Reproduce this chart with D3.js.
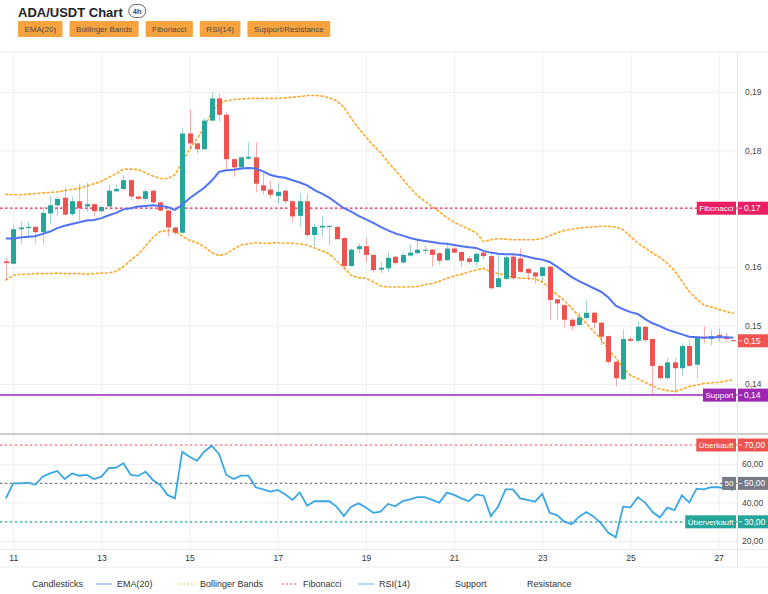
<!DOCTYPE html>
<html>
<head>
<meta charset="utf-8">
<script src="https://cdn.jsdelivr.net/npm/d3@7"></script>
<style>
  body { margin:0; background:#fff; }
  svg text { font-family:"Liberation Sans", Arial, sans-serif; }
</style>
</head>
<body>
<svg id="chart" width="768" height="594"></svg>
<script>
//////////////////////////////////////////////////////////////////////////////
//Data (4h candles, first one at 10th 20:00)
var startTime = Date.UTC(2024, 9, 10, 20);
var opens = [.1610,.1606,.1665,.1667,.1669,.1660,.1692,.1706,.1719,.1691,
  .1713,.1704,.1708,.1696,.1704,.1730,.1734,.1749,.1721,.1717,
  .1731,.1711,.1697,.1668,.1659,.1829,.1812,.1802,.1851,.1889,
  .1861,.1785,.1771,.1786,.1788,.1740,.1733,.1722,.1731,.1713,
  .1688,.1713,.1655,.1668,.1669,.1669,.1650,.1602,.1631,.1636,
  .1621,.1596,.1598,.1618,.1608,.1620,.1624,.1628,.1630,.1624,
  .1612,.1632,.1626,.1615,.1609,.1625,.1619,.1566,.1580,.1618,
  .1615,.1597,.1591,.1585,.1601,.1545,.1535,.1510,.1501,.1513,
  .1522,.1505,.1482,.1438,.1408,.1477,.1474,.1498,.1477,.1431,
  .1410,.1437,.1427,.1465,.1433,.1481,.1477,.1484,.1481,.1475];
var highs = [.1616,.1672,.1678,.1678,.1670,.1704,.1721,.1721,.1735,.1721,
  .1743,.1744,.1709,.1705,.1741,.1741,.1758,.1751,.1723,.1734,
  .1733,.1712,.1698,.1669,.1839,.1870,.1813,.1855,.1900,.1897,
  .1865,.1786,.1790,.1814,.1814,.1761,.1749,.1744,.1734,.1714,
  .1727,.1727,.1675,.1688,.1671,.1670,.1651,.1632,.1641,.1650,
  .1622,.1609,.1626,.1619,.1625,.1639,.1650,.1637,.1631,.1626,
  .1641,.1635,.1627,.1619,.1626,.1626,.1624,.1624,.1619,.1621,
  .1632,.1599,.1592,.1601,.1602,.1546,.1536,.1513,.1522,.1544,
  .1524,.1506,.1483,.1439,.1494,.1481,.1507,.1499,.1478,.1432,
  .1444,.1444,.1470,.1475,.1482,.1499,.1493,.1495,.1488,.1476];
var lows = [.1578,.1605,.1640,.1652,.1641,.1640,.1674,.1687,.1687,.1687,
  .1680,.1695,.1687,.1693,.1703,.1729,.1731,.1714,.1714,.1714,
  .1709,.1696,.1652,.1655,.1657,.1801,.1795,.1801,.1851,.1850,
  .1766,.1755,.1766,.1784,.1729,.1724,.1718,.1708,.1708,.1678,
  .1669,.1652,.1636,.1652,.1638,.1647,.1598,.1601,.1624,.1609,
  .1591,.1590,.1592,.1604,.1606,.1618,.1623,.1623,.1601,.1604,
  .1611,.1624,.1601,.1604,.1601,.1613,.1561,.1564,.1578,.1578,
  .1591,.1578,.1572,.1575,.1510,.1510,.1497,.1491,.1499,.1511,
  .1495,.1467,.1433,.1395,.1407,.1472,.1471,.1472,.1381,.1407,
  .1407,.1384,.1413,.1429,.1410,.1470,.1466,.1472,.1472,.1473];
var closes = [.1607,.1665,.1668,.1669,.1660,.1693,.1706,.1717,.1690,.1713,
  .1701,.1708,.1696,.1703,.1731,.1734,.1749,.1721,.1717,.1730,
  .1711,.1697,.1668,.1659,.1829,.1812,.1802,.1851,.1889,.1861,
  .1785,.1771,.1788,.1789,.1743,.1731,.1724,.1729,.1713,.1687,
  .1713,.1655,.1669,.1671,.1671,.1648,.1602,.1630,.1636,.1621,
  .1595,.1599,.1616,.1607,.1621,.1625,.1630,.1630,.1621,.1611,
  .1632,.1625,.1611,.1609,.1623,.1619,.1564,.1581,.1617,.1581,
  .1592,.1590,.1584,.1600,.1544,.1538,.1510,.1499,.1514,.1522,
  .1505,.1481,.1438,.1410,.1477,.1474,.1498,.1475,.1431,.1410,
  .1437,.1427,.1465,.1431,.1481,.1478,.1482,.1480,.1477,.1474];
var ema20 = [.1649,.1649,.1651,.1652,.1653,.1657,.1661,.1667,.1671,.1674,
  .1677,.1680,.1681,.1684,.1689,.1693,.1699,.1701,.1704,.1705,
  .1706,.1705,.1703,.1698,.1707,.1718,.1727,.1736,.1748,.1763,
  .1766,.1767,.1769,.1770,.1769,.1764,.1758,.1755,.1753,.1749,
  .1745,.1740,.1732,.1726,.1719,.1710,.1701,.1695,.1688,.1682,
  .1676,.1669,.1663,.1658,.1654,.1650,.1647,.1645,.1643,.1641,
  .1640,.1638,.1636,.1634,.1633,.1628,.1625,.1623,.1622,.1622,
  .1621,.1618,.1615,.1613,.1609,.1601,.1592,.1583,.1576,.1570,
  .1564,.1558,.1548,.1534,.1528,.1523,.1520,.1511,.1504,.1499,
  .1493,.1489,.1485,.1481,.1480,.1479,.1480,.1480,.1480,.1479];
var bbUpper = [.1725,.1724,.1724,.1725,.1726,.1727,.1728,.1729,.1731,.1733,
  .1735,.1739,.1743,.1747,.1754,.1760,.1768,.1768,.1767,.1762,
  .1756,.1752,.1752,.1758,.1780,.1802,.1820,.1838,.1866,.1880,
  .1885,.1887,.1888,.1889,.1889,.1889,.1889,.1889,.1890,.1891,
  .1892,.1894,.1894,.1893,.1890,.1885,.1874,.1855,.1838,.1823,
  .1809,.1796,.1780,.1766,.1751,.1736,.1723,.1713,.1704,.1695,
  .1685,.1677,.1671,.1665,.1659,.1644,.1647,.1649,.1648,.1647,
  .1647,.1647,.1647,.1649,.1654,.1659,.1663,.1665,.1667,.1668,
  .1669,.1670,.1670,.1669,.1664,.1653,.1641,.1633,.1624,.1617,
  .1607,.1594,.1576,.1558,.1546,.1535,.1532,.1528,.1524,.1521];
var bbLower = [.1578,.1586,.1588,.1588,.1589,.1589,.1589,.1590,.1589,.1589,
  .1589,.1588,.1589,.1590,.1590,.1593,.1601,.1612,.1622,.1636,
  .1651,.1661,.1663,.1662,.1653,.1646,.1642,.1635,.1625,.1620,
  .1623,.1631,.1638,.1640,.1642,.1641,.1641,.1642,.1641,.1641,
  .1640,.1638,.1633,.1628,.1623,.1611,.1599,.1586,.1582,.1581,
  .1575,.1568,.1566,.1566,.1566,.1566,.1567,.1570,.1572,.1576,
  .1581,.1585,.1588,.1592,.1595,.1598,.1592,.1589,.1586,.1583,
  .1581,.1581,.1580,.1575,.1564,.1553,.1543,.1530,.1516,.1504,
  .1490,.1477,.1458,.1445,.1428,.1415,.1409,.1403,.1397,.1391,
  .1389,.1387,.1391,.1396,.1398,.1401,.1402,.1403,.1405,.1407];
var rsi14 = [42.2,50.0,50.0,50.4,49.3,53.5,55.2,56.5,52.3,55.2,
  54.0,54.4,52.3,53.5,57.9,58.2,60.5,54.4,53.9,56.1,
  51.8,49.2,44.0,42.2,66.5,63.9,61.7,66.5,69.6,65.3,
  54.4,52.3,54.0,54.0,48.0,46.9,45.7,46.6,44.3,41.4,
  45.3,38.4,40.7,40.7,40.7,37.9,33.0,37.9,39.6,37.4,
  34.7,35.3,39.3,38.1,40.8,41.7,42.8,42.8,41.4,40.0,
  45.2,44.0,42.2,40.7,44.3,43.6,33.0,37.9,46.9,46.9,
  42.2,41.4,40.5,44.5,34.7,33.5,30.1,28.7,32.7,35.1,
  32.7,29.2,24.3,21.9,37.9,37.5,42.8,40.0,35.1,32.2,
  37.4,36.1,43.8,40.0,47.3,46.9,48.0,48.0,47.3,46.6];

var fibLevel = 0.1701, supportLevel = 0.1381;
var priceTicks = [0.14, 0.15, 0.16, 0.17, 0.18, 0.19];
var priceTickLabels = [0.14, 0.15, 0.16, 0.18, 0.19];
var rsiTicks = [20, 30, 40, 50, 60, 70];
var rsiTickLabels = [20, 40, 60];
var rsiLevels = [70, 50, 30];
var rsiLevelNames = ["Überkauft", "50", "Überverkauft"];
var buttonLabels = ["EMA(20)", "Bollinger Bands", "Fibonacci", "RSI(14)", "Support/Resistance"];
var legendLabels = ["Candlesticks", "EMA(20)", "Bollinger Bands", "Fibonacci", "RSI(14)", "Support", "Resistance"];

//////////////////////////////////////////////////////////////////////////////
//Layout
var plotR = 737, mainTop = 52, mainBot = 433, rsiTop = 435, rsiBot = 549, axisBot = 567;
var UP = "#26a69a", DOWN = "#ef5350";
var step = 4*3600*1000;
var de = d3.formatLocale({decimal: ",", thousands: ".", grouping: [3], currency: ["", "€"]});
var fmt2 = de.format(".2f");

var times = opens.map(function(d, i){ return new Date(startTime + i*step); });
var candles = opens.map(function(o, i){
  return {t: times[i], o: o, h: highs[i], l: lows[i], c: closes[i]};
});

var x = d3.scaleUtc()
  .domain([new Date(startTime - 0.8*step), new Date(startTime + 99.5*step)])
  .range([0, plotR]);
var y = d3.scaleLinear().domain([0.14, 0.19]).range([384, 92]);
var yr = d3.scaleLinear().domain([20, 70]).range([541, 445]);

var svg = d3.select("#chart");

//header
var title = svg.append("text")
  .attr("x", 18).attr("y", 17)
  .style("font-size", "13px").style("font-weight", "bold").style("fill", "#222")
  .text("ADA/USDT Chart");
var tw = title.node().getComputedTextLength();
svg.append("rect")
  .attr("x", 18 + tw + 6).attr("y", 4.5).attr("width", 17).attr("height", 13).attr("rx", 6.5)
  .style("fill", "#fff").style("stroke", "#666").style("stroke-width", 1);
svg.append("text")
  .attr("x", 18 + tw + 14.5).attr("y", 13.8).attr("text-anchor", "middle")
  .style("font-size", "7.5px").style("font-weight", "bold").style("fill", "#444")
  .text("4h");

var bx = 18;
buttonLabels.forEach(function(label){
  var g = svg.append("g");
  var r = g.append("rect").attr("y", 21).attr("height", 16).attr("rx", 1).style("fill", "#f7a440");
  var t = g.append("text").attr("y", 32).style("font-size", "8px").style("fill", "#4a4a4a").text(label);
  var w = t.node().getComputedTextLength() + 13;
  r.attr("x", bx).attr("width", w);
  t.attr("x", bx + 6.5);
  bx += w + 7;
});

//grid
svg.append("g")
  .call(d3.axisRight(y).tickValues(priceTicks).tickSize(plotR).tickFormat(""))
  .call(function(g){ g.select(".domain").remove(); g.selectAll("line").style("stroke", "#f0f0f0"); });
svg.append("g")
  .call(d3.axisRight(yr).tickValues(rsiTicks).tickSize(plotR).tickFormat(""))
  .call(function(g){ g.select(".domain").remove(); g.selectAll("line").style("stroke", "#f0f0f0"); });
svg.append("g")
  .attr("transform", "translate(0," + mainTop + ")")
  .call(d3.axisBottom(x).ticks(d3.utcDay.every(2)).tickSize(rsiBot - mainTop).tickFormat(""))
  .call(function(g){ g.select(".domain").remove(); g.selectAll("line").style("stroke", "#f0f0f0"); });

//borders
svg.append("line").attr("x1", 0).attr("x2", 768).attr("y1", mainTop).attr("y2", mainTop).style("stroke", "#ebebeb");
svg.append("line").attr("x1", 0).attr("x2", 768).attr("y1", 434).attr("y2", 434).style("stroke", "#bdbdbd").style("stroke-width", 1.5);
svg.append("line").attr("x1", 0).attr("x2", 768).attr("y1", rsiBot + 0.5).attr("y2", rsiBot + 0.5).style("stroke", "#ececec");
svg.append("line").attr("x1", 0).attr("x2", 768).attr("y1", axisBot).attr("y2", axisBot).style("stroke", "#ececec");
svg.append("line").attr("x1", plotR + 0.5).attr("x2", plotR + 0.5).attr("y1", mainTop).attr("y2", axisBot).style("stroke", "#e6e6e6");

//clip
svg.append("clipPath").attr("id", "clipMain").append("rect")
  .attr("x", 0).attr("y", mainTop).attr("width", plotR).attr("height", mainBot - mainTop);
svg.append("clipPath").attr("id", "clipRsi").append("rect")
  .attr("x", 0).attr("y", rsiTop).attr("width", plotR).attr("height", rsiBot - rsiTop);

var main = svg.append("g").attr("clip-path", "url(#clipMain)");

//bollinger bands
var bandLine = function(arr){
  return d3.line().x(function(d, i){ return x(times[i]); }).y(function(d){ return y(d); })(arr);
};
[bbUpper, bbLower].forEach(function(arr){
  main.append("path").attr("d", bandLine(arr))
    .style("fill", "none").style("stroke", "#ffa726").style("stroke-width", 1.6)
    .style("stroke-dasharray", "1.8,2.8").style("stroke-linecap", "round");
});

//fibonacci and support
main.append("line").attr("x1", 0).attr("x2", plotR).attr("y1", y(fibLevel)).attr("y2", y(fibLevel))
  .style("stroke", "#e91e63").style("stroke-width", 1.3).style("stroke-dasharray", "2.5,2.5");
main.append("line").attr("x1", 0).attr("x2", plotR).attr("y1", y(supportLevel)).attr("y2", y(supportLevel))
  .style("stroke", "#b35cc4").style("stroke-width", 2);

//candles
var cg = main.append("g").selectAll("g").data(candles).enter().append("g");
cg.append("line")
  .attr("x1", function(d){ return Math.round(x(d.t)) + 0.5; })
  .attr("x2", function(d){ return Math.round(x(d.t)) + 0.5; })
  .attr("y1", function(d){ return y(d.h); })
  .attr("y2", function(d){ return y(d.l); })
  .style("stroke", function(d){ return d.c >= d.o ? UP : DOWN; })
  .style("stroke-opacity", 0.45);
cg.append("rect")
  .attr("x", function(d){ return Math.round(x(d.t)) - 2; })
  .attr("width", 5)
  .attr("y", function(d){ return y(Math.max(d.o, d.c)); })
  .attr("height", function(d){ return Math.max(1, Math.abs(y(d.o) - y(d.c))); })
  .style("fill", function(d){ return d.c >= d.o ? UP : DOWN; });

//ema
main.append("path")
  .attr("d", d3.line().x(function(d, i){ return x(times[i]); }).y(function(d){ return y(d); })(ema20))
  .style("fill", "none").style("stroke", "#5073f6").style("stroke-width", 2);

//rsi pane
var rsiG = svg.append("g").attr("clip-path", "url(#clipRsi)");
var rsiColors = [DOWN, "#787b86", UP];
rsiLevels.forEach(function(v, i){
  rsiG.append("line").attr("x1", 0).attr("x2", plotR).attr("y1", yr(v)).attr("y2", yr(v))
    .style("stroke", rsiColors[i]).style("stroke-width", 1.2).style("stroke-dasharray", "2.2,2.8");
});
rsiG.append("path")
  .attr("d", d3.line().x(function(d, i){ return x(times[i]); }).y(function(d){ return yr(d); })(rsi14))
  .style("fill", "none").style("stroke", "#3aa6e6").style("stroke-width", 1.8);

//axes labels
svg.append("g")
  .attr("transform", "translate(" + plotR + ",0)")
  .call(d3.axisRight(y).tickValues(priceTickLabels).tickFormat(fmt2).tickSize(0).tickPadding(8))
  .call(function(g){ g.select(".domain").remove(); g.selectAll("text").style("font-size", "8.5px").style("fill", "#444"); });
svg.append("g")
  .attr("transform", "translate(" + plotR + ",0)")
  .call(d3.axisRight(yr).tickValues(rsiTickLabels).tickFormat(fmt2).tickSize(0).tickPadding(5))
  .call(function(g){ g.select(".domain").remove(); g.selectAll("text").style("font-size", "8.5px").style("fill", "#444"); });
svg.append("g")
  .attr("transform", "translate(0," + rsiBot + ")")
  .call(d3.axisBottom(x).ticks(d3.utcDay.every(2)).tickFormat(d3.utcFormat("%-d")).tickSize(0).tickPadding(6))
  .call(function(g){ g.select(".domain").remove(); g.selectAll("text").style("font-size", "8.5px").style("fill", "#333"); });

//price axis tags
function axisTag(yy, value, color, name){
  var g = svg.append("g");
  g.append("rect").attr("x", plotR + 1).attr("y", yy - 6.5).attr("width", 768 - plotR - 1).attr("height", 13)
    .style("fill", color);
  g.append("line").attr("x1", plotR + 2).attr("x2", plotR + 5).attr("y1", yy).attr("y2", yy)
    .style("stroke", "#fff").style("stroke-opacity", 0.8);
  g.append("text").attr("x", plotR + 7).attr("y", yy + 3).style("font-size", "8.5px").style("fill", "#fff").text(value);
  if(name){
    var r = g.append("rect").attr("y", yy - 6.5).attr("height", 13).style("fill", color);
    var t = g.append("text").attr("y", yy + 3).style("font-size", "8px").style("fill", "#fff").text(name);
    var w = t.node().getComputedTextLength() + 5;
    r.attr("x", plotR - 1 - w).attr("width", w);
    t.attr("x", plotR - 1 - w + 2.5);
  }
}
axisTag(y(fibLevel), fmt2(fibLevel), "#e91e63", "Fibonacci");
axisTag(y(closes[closes.length - 1]), fmt2(closes[closes.length - 1]), DOWN, null);
axisTag(y(supportLevel), fmt2(supportLevel), "#9c27b0", "Support");
rsiLevels.forEach(function(v, i){
  axisTag(yr(v), fmt2(v), rsiColors[i], rsiLevelNames[i]);
});

//legend
var legendX = [32, 117, 200, 303, 379, 455, 527];
var legendColors = [null, "#5073f6", "#ffa726", "#e91e63", "#3aa6e6", null, null];
var legendDash = [null, null, "2,2", "2,2", null, null, null];
legendLabels.forEach(function(label, i){
  if(legendColors[i]){
    svg.append("line").attr("x1", legendX[i] - 21).attr("x2", legendX[i] - 5).attr("y1", 584).attr("y2", 584)
      .style("stroke", legendColors[i]).style("stroke-opacity", 0.55).style("stroke-width", 1.5)
      .style("stroke-dasharray", legendDash[i]);
  }
  svg.append("text").attr("x", legendX[i]).attr("y", 587)
    .style("font-size", "9px").style("fill", "#333").text(label);
});
</script>
</body>
</html>
